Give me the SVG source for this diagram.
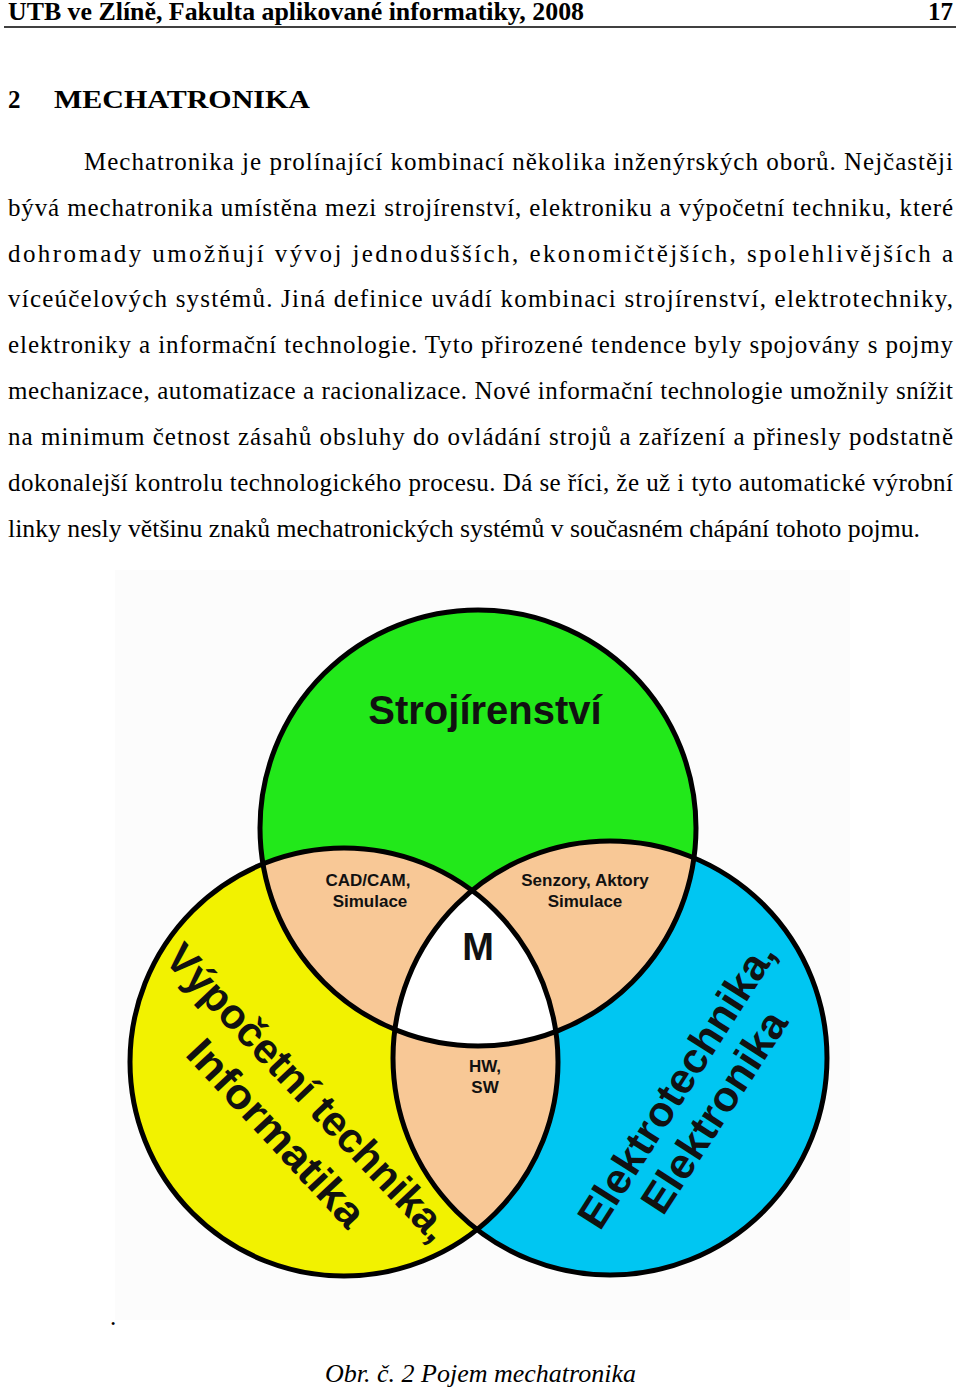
<svg xmlns="http://www.w3.org/2000/svg" width="960" height="1390" viewBox="0 0 960 1390">
<style>
.t{font-family:"Liberation Serif",serif;font-size:25px;fill:#000}
.d{font-family:"Liberation Sans",Arial,sans-serif;font-weight:bold;fill:#111}
.o{fill:none;stroke:#000;stroke-width:5}
</style>
<defs>
<clipPath id="cg"><circle cx="478" cy="828" r="218"/></clipPath>
<clipPath id="cy"><circle cx="344" cy="1062" r="214"/></clipPath>
<clipPath id="cb"><circle cx="610" cy="1058" r="217"/></clipPath>
</defs>
<rect width="960" height="1390" fill="#fff"/>
<g id="header">
<text x="8" y="20" class="t" font-size="24" font-weight="bold" textLength="576" lengthAdjust="spacingAndGlyphs">UTB ve Zlíně, Fakulta aplikované informatiky, 2008</text>
<text x="953" y="20" class="t" font-size="24" font-weight="bold" text-anchor="end">17</text>
<line x1="4" y1="27" x2="956" y2="27" stroke="#000" stroke-width="1.5"/>
</g>
<text x="8" y="108" class="t" font-size="31" font-weight="bold">2</text>
<text x="54" y="108" class="t" font-size="31" font-weight="bold" textLength="256" lengthAdjust="spacingAndGlyphs">MECHATRONIKA</text>
<g id="body">
<text x="84" y="170" class="t" textLength="869" lengthAdjust="spacing">Mechatronika je prolínající kombinací několika inženýrských oborů. Nejčastěji</text>
<text x="8" y="216" class="t" textLength="945" lengthAdjust="spacing">bývá mechatronika umístěna mezi strojírenství, elektroniku a výpočetní techniku, které</text>
<text x="8" y="262" class="t" textLength="945" lengthAdjust="spacing">dohromady umožňují vývoj jednodušších, ekonomičtějších, spolehlivějších a</text>
<text x="8" y="307" class="t" textLength="945" lengthAdjust="spacing">víceúčelových systémů. Jiná definice uvádí kombinaci strojírenství, elektrotechniky,</text>
<text x="8" y="353" class="t" textLength="945" lengthAdjust="spacing">elektroniky a informační technologie.  Tyto přirozené tendence byly spojovány s pojmy</text>
<text x="8" y="399" class="t" textLength="945" lengthAdjust="spacing">mechanizace, automatizace a racionalizace. Nové informační technologie umožnily snížit</text>
<text x="8" y="445" class="t" textLength="945" lengthAdjust="spacing">na minimum četnost zásahů obsluhy do ovládání strojů a zařízení a přinesly podstatně</text>
<text x="8" y="491" class="t" textLength="945" lengthAdjust="spacing">dokonalejší kontrolu technologického procesu. Dá se říci, že už i tyto automatické výrobní</text>
<text x="8" y="537" class="t" textLength="912" lengthAdjust="spacingAndGlyphs">linky nesly většinu znaků mechatronických systémů v současném chápání tohoto pojmu.</text>
</g>
<g id="venn">
<rect x="115" y="570" width="735" height="750" fill="#fcfcfc"/>
<circle cx="478" cy="828" r="218" fill="#22e81a"/>
<circle cx="344" cy="1062" r="214" fill="#f2f200"/>
<circle cx="610" cy="1058" r="217" fill="#00c6f2"/>
<circle cx="344" cy="1062" r="214" fill="#f8c896" clip-path="url(#cg)"/>
<circle cx="610" cy="1058" r="217" fill="#f8c896" clip-path="url(#cg)"/>
<circle cx="610" cy="1058" r="217" fill="#f8c896" clip-path="url(#cy)"/>
<g clip-path="url(#cg)"><circle cx="344" cy="1062" r="214" fill="#fff" clip-path="url(#cb)"/></g>
<circle cx="478" cy="828" r="218" class="o"/>
<circle cx="344" cy="1062" r="214" class="o"/>
<circle cx="610" cy="1058" r="217" class="o"/>
<text x="485" y="724" class="d" font-size="40" text-anchor="middle">Strojírenství</text>
<text x="368" y="886" class="d" font-size="17" text-anchor="middle">CAD/CAM,</text>
<text x="370" y="907" class="d" font-size="17" text-anchor="middle">Simulace</text>
<text x="585" y="886" class="d" font-size="17" text-anchor="middle">Senzory, Aktory</text>
<text x="585" y="907" class="d" font-size="17" text-anchor="middle">Simulace</text>
<text x="478" y="960" class="d" font-size="38" text-anchor="middle">M</text>
<text x="485" y="1072" class="d" font-size="17" text-anchor="middle">HW,</text>
<text x="485" y="1093" class="d" font-size="17" text-anchor="middle">SW</text>
<text transform="translate(163,960) rotate(46.5)" class="d" font-size="42" textLength="392" lengthAdjust="spacingAndGlyphs">Výpočetní technika,</text>
<text transform="translate(184,1055) rotate(47)" class="d" font-size="42" textLength="240" lengthAdjust="spacingAndGlyphs">Informatika</text>
<text transform="translate(600,1232) rotate(-57.5)" class="d" font-size="42" textLength="330" lengthAdjust="spacingAndGlyphs">Elektrotechnika,</text>
<text transform="translate(663,1217) rotate(-57)" class="d" font-size="42" textLength="232" lengthAdjust="spacingAndGlyphs">Elektronika</text>
</g>
<text x="110" y="1325" class="t">.</text>
<text x="325" y="1382" class="t" font-style="italic" textLength="311" lengthAdjust="spacingAndGlyphs">Obr. č. 2 Pojem mechatronika</text>
</svg>
